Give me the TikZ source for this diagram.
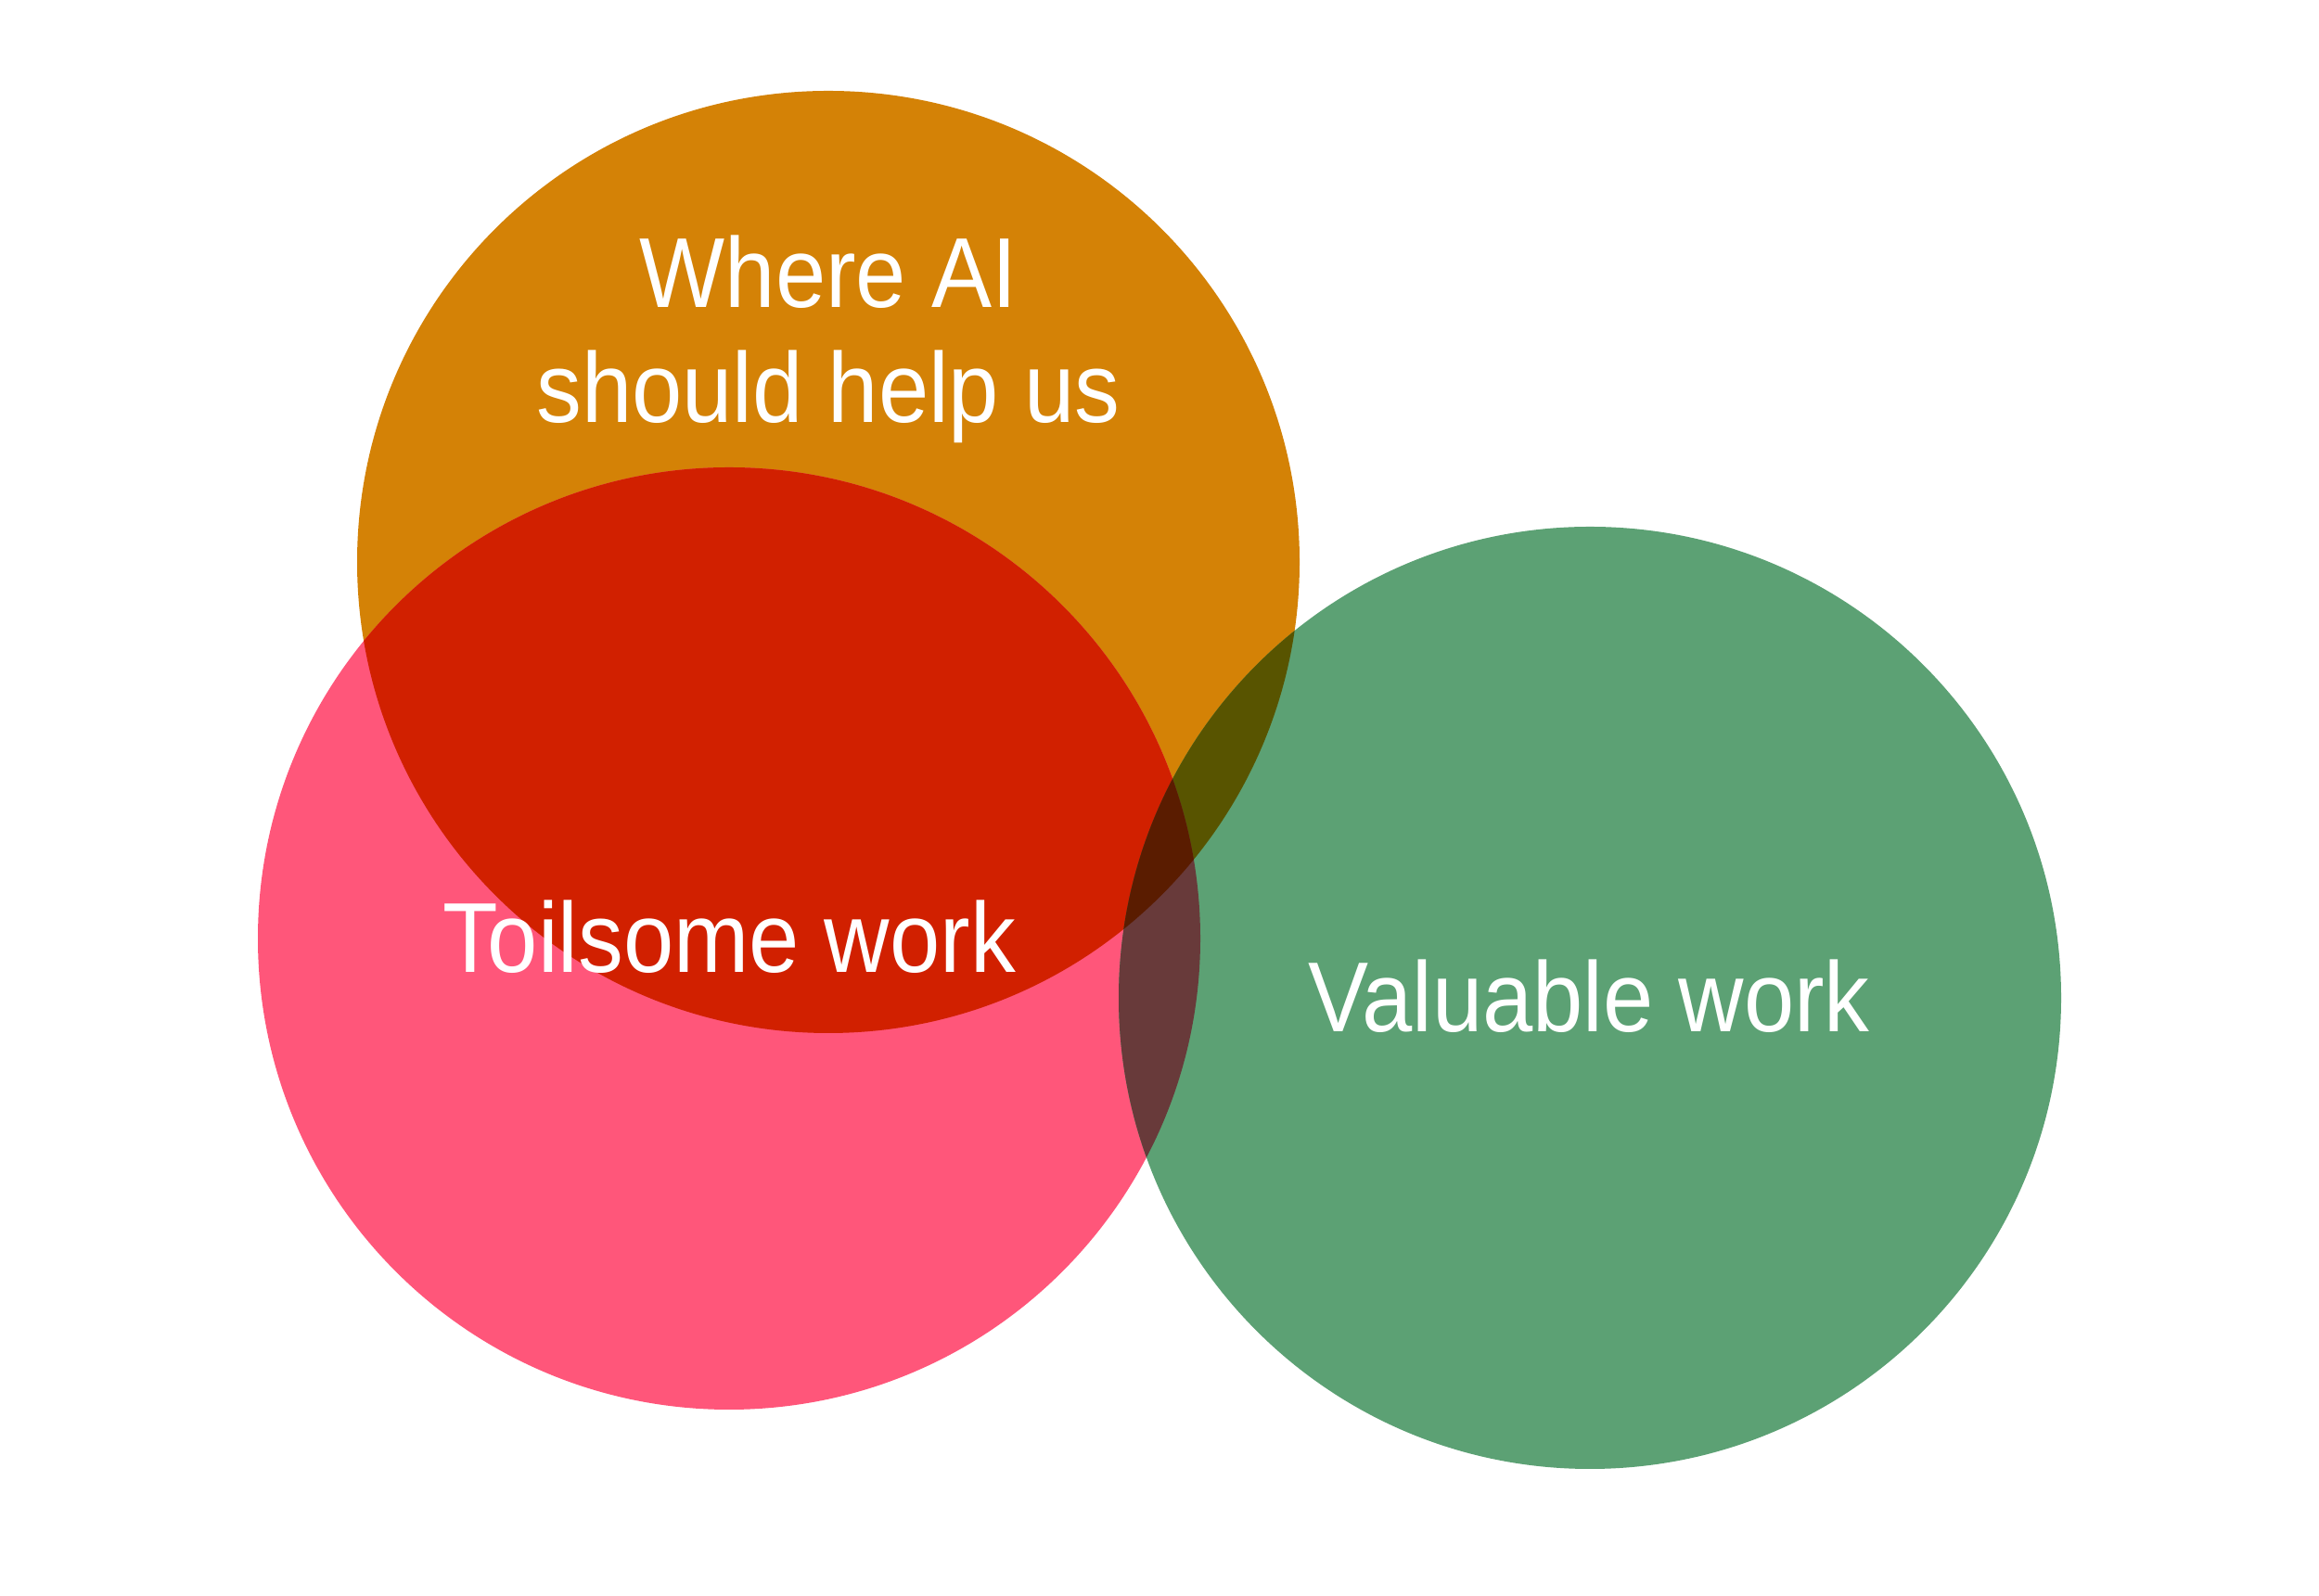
\documentclass[tikz,border=0pt]{standalone}
\usepackage{fontspec}
\setmainfont{Liberation Sans}[FakeStretch=0.91]
\usepackage{tikz}
\usepackage{xcolor}

\definecolor{laranja}{RGB}{212,130,6}
\definecolor{rosa}{RGB}{255,86,122}
\definecolor{verde}{RGB}{92,161,116}
\definecolor{vermelho}{RGB}{209,32,0}
\definecolor{oliva}{RGB}{88,84,0}
\definecolor{vinho}{RGB}{104,58,58}
\definecolor{marrom}{RGB}{90,28,0}

% círculos
\newcommand{\circIA}{(8.93,11.15) circle (5.08)}
\newcommand{\circToil}{(7.86,7.09) circle (5.08)}
\newcommand{\circVal}{(17.14,6.45) circle (5.08)}

\begin{document}
\begin{tikzpicture}[x=1cm, y=1cm,
    rotulo/.style={text=white, inner sep=0pt, font=\fontsize{30.5}{35.3}\selectfont}]
    \useasboundingbox (0,0) rectangle (25,17.21);

    % fundo
    \fill[white] (0,0) rectangle (25,17.21);

    % círculos
    \fill[laranja] \circIA;
    \fill[rosa] \circToil;
    \fill[verde] \circVal;

    % interseções
    \begin{scope}
        \clip \circIA;
        \fill[vermelho] \circToil;
        \fill[oliva] \circVal;
    \end{scope}
    \begin{scope}
        \clip \circToil;
        \fill[vinho] \circVal;
        \clip \circIA;
        \fill[marrom] \circVal;
    \end{scope}

    % rótulos
    \node[rotulo, align=center, anchor=base] (ajuda) at (8.93,12.65) {Where AI\\should help us};
    \node[rotulo, anchor=base] (penoso) at (7.86,6.72) {Toilsome work};
    \node[rotulo, anchor=base] (valioso) at (17.13,6.08) {Valuable work};
\end{tikzpicture}
\end{document}
